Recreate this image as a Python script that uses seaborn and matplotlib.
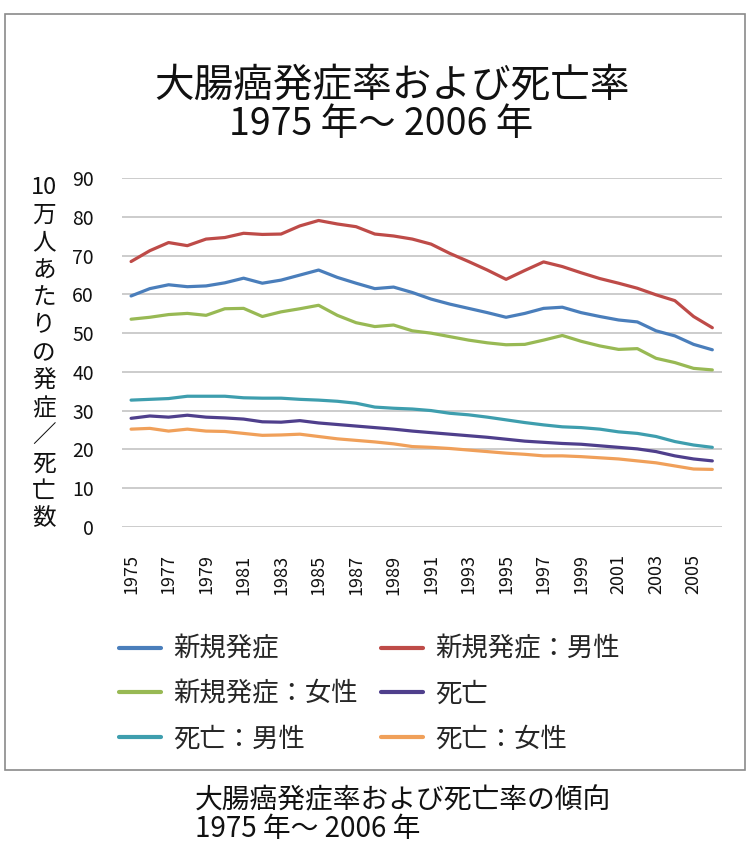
import matplotlib
matplotlib.use("Agg")
import matplotlib.pyplot as plt
import seaborn as sns
import pandas as pd
from matplotlib.lines import Line2D
from matplotlib.patches import Rectangle

years = list(range(1975, 2007))

incidence_total = [59.6, 61.5, 62.5, 62.0, 62.2, 63.0, 64.2, 62.9, 63.7, 65.0, 66.3, 64.4, 62.9, 61.5, 61.9, 60.5,
                   58.8, 57.5, 56.4, 55.3, 54.1, 55.1, 56.4, 56.7, 55.3, 54.3, 53.4, 52.9, 50.6, 49.3, 47.1, 45.7]
incidence_male = [68.5, 71.3, 73.4, 72.6, 74.3, 74.7, 75.8, 75.5, 75.6, 77.7, 79.1, 78.2, 77.5, 75.6, 75.1, 74.3,
                  73.0, 70.6, 68.5, 66.3, 63.9, 66.2, 68.4, 67.2, 65.6, 64.1, 62.9, 61.6, 59.9, 58.4, 54.3, 51.4]
incidence_female = [53.6, 54.1, 54.8, 55.1, 54.6, 56.3, 56.4, 54.3, 55.5, 56.3, 57.2, 54.6, 52.7, 51.7, 52.1, 50.6,
                    50.0, 49.1, 48.2, 47.5, 47.0, 47.1, 48.2, 49.4, 47.9, 46.7, 45.8, 46.0, 43.5, 42.4, 40.9, 40.5]
mortality_total = [28.0, 28.6, 28.3, 28.8, 28.3, 28.1, 27.8, 27.1, 27.0, 27.4, 26.8, 26.4, 26.0, 25.6, 25.2, 24.7,
                   24.3, 23.9, 23.5, 23.1, 22.6, 22.1, 21.8, 21.5, 21.3, 20.9, 20.5, 20.1, 19.4, 18.3, 17.5, 17.0]
mortality_male = [32.7, 32.9, 33.1, 33.7, 33.7, 33.7, 33.3, 33.2, 33.2, 32.9, 32.7, 32.4, 31.9, 30.9, 30.6, 30.4,
                  30.0, 29.3, 28.9, 28.3, 27.6, 26.9, 26.3, 25.8, 25.6, 25.2, 24.5, 24.1, 23.3, 22.0, 21.1, 20.5]
mortality_female = [25.2, 25.4, 24.7, 25.2, 24.7, 24.6, 24.1, 23.6, 23.7, 23.9, 23.3, 22.7, 22.3, 21.9, 21.4, 20.7,
                    20.5, 20.2, 19.8, 19.4, 19.0, 18.7, 18.3, 18.3, 18.1, 17.8, 17.5, 17.0, 16.5, 15.7, 14.9, 14.8]

series_names = ["新規発症", "新規発症：男性", "新規発症：女性", "死亡", "死亡：男性", "死亡：女性"]
series_values = [incidence_total, incidence_male, incidence_female, mortality_total, mortality_male, mortality_female]
series_colors = ["#4A7EBB", "#BE4B48", "#98B954", "#4F3F8C", "#3E9EAE", "#F0A05A"]

y_ticks = [0, 10, 20, 30, 40, 50, 60, 70, 80, 90]
x_tick_years = list(range(1975, 2006, 2))

title_line1 = "大腸癌発症率および死亡率"
title_line2 = "1975 年～ 2006 年"
ylabel_chars = ["10", "万", "人", "あ", "た", "り", "の", "発", "症", "／", "死", "亡", "数"]
caption_line1 = "大腸癌発症率および死亡率の傾向"
caption_line2 = "1975 年～ 2006 年"

rows = []
for name, vals in zip(series_names, series_values):
    for yr, v in zip(years, vals):
        rows.append({"year": yr, "value": v, "series": name})
df = pd.DataFrame(rows)

sns.set_theme(style="white")
plt.rcParams['font.family'] = ['Noto Sans CJK JP', 'DejaVu Sans']

W, H = 752, 848
fig = plt.figure(figsize=(W / 100, H / 100), dpi=100)
fig.patch.set_facecolor("white")

ax_left, ax_right, ax_top, ax_bottom = 121.7, 721.7, 178.3, 526.7
ax = fig.add_axes([ax_left / W, 1 - ax_bottom / H, (ax_right - ax_left) / W, (ax_bottom - ax_top) / H])

sns.lineplot(data=df, x="year", y="value", hue="series", hue_order=series_names,
             palette=dict(zip(series_names, series_colors)), linewidth=2.3, ax=ax, legend=False)

ax.set_xlim(1974.5, 2006.5)
ax.set_ylim(0, 90)
ax.set_yticks(y_ticks)
ax.set_yticklabels([str(t) for t in y_ticks], fontsize=14, color="#111111")
ax.set_xticks(x_tick_years)
ax.set_xticklabels([str(t) for t in x_tick_years], rotation=90, fontsize=13, color="#111111")
ax.tick_params(axis="y", length=0, pad=20)
ax.tick_params(axis="x", length=0, pad=20)
for lab in ax.get_xticklabels():
    lab.set_verticalalignment("top")
ax.yaxis.grid(True, color="#c4c4c4", linewidth=1.2)
ax.xaxis.grid(False)
ax.set_axisbelow(True)
for s in ax.spines.values():
    s.set_visible(False)
ax.set_xlabel("")
ax.set_ylabel("")

# Titles
fig.text(392 / W, 1 - 86 / H, title_line1, ha="center", va="center", fontsize=28.5, color="#111111")
fig.text(381 / W, 1 - 125 / H, title_line2, ha="center", va="center", fontsize=27, color="#111111")

# Vertical y label
y0, y1 = 188, 519
for i, ch in enumerate(ylabel_chars):
    yy = y0 + (y1 - y0) * i / (len(ylabel_chars) - 1)
    fig.text(44 / W, 1 - yy / H, ch, ha="center", va="center", fontsize=17, color="#111111")

# Legend (row-wise order as in reference)
order = [0, 2, 4, 1, 3, 5]
handles = [Line2D([0], [0], color=series_colors[i], linewidth=3) for i in order]
labels = [series_names[i] for i in order]
fig.legend(handles, labels, ncol=2, loc="upper left",
           bbox_to_anchor=(95 / W, 1 - 612 / H), frameon=False, fontsize=19,
           handlelength=1.6, handletextpad=0.45, columnspacing=0.9, labelspacing=0.68)

# Outer border
fig.patches.append(Rectangle((5 / W, 1 - 770 / H), 740 / W, (770 - 14) / H,
                             transform=fig.transFigure, fill=False, edgecolor="#8a8a8a", linewidth=1.2))

# Caption
fig.text(195 / W, 1 - 800 / H, caption_line1, ha="left", va="center", fontsize=20, color="#111111")
fig.text(195 / W, 1 - 829 / H, caption_line2, ha="left", va="center", fontsize=20, color="#111111")

fig.savefig("out.png", dpi=100, facecolor="white")
